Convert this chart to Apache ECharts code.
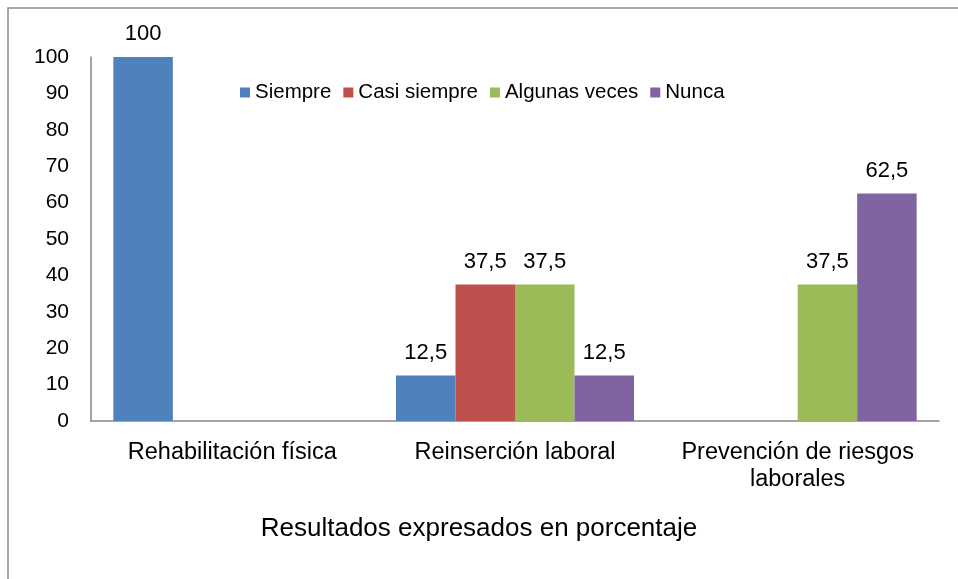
<!DOCTYPE html>
<html>
<head>
<meta charset="utf-8">
<script src="https://cdn.jsdelivr.net/npm/echarts@6/dist/echarts.min.js"></script>
<style>
  html, body { margin: 0; padding: 0; background: #fff; }
  #main { width: 958px; height: 579px; }
</style>
</head>
<body>
<div id="main"></div>
<script>
// categorias y series (porcentajes)
var categories = ["Rehabilitación física", "Reinserción laboral", "Prevención de riesgos\nlaborales"];
var seriesNames = ["Siempre", "Casi siempre", "Algunas veces", "Nunca"];
var siempre = [100, 12.5, null];
var casiSiempre = [null, 37.5, null];
var algunasVeces = [null, 37.5, 37.5];
var nunca = [null, 12.5, 62.5];
var yTicks = [0, 10, 20, 30, 40, 50, 60, 70, 80, 90, 100];

var colors = ["#4f81bd", "#c0504d", "#9bbb59", "#8064a2"];
var font = "Liberation Sans, Arial, sans-serif";

var chartDom = document.getElementById("main");
var myChart = echarts.init(chartDom);

var makeSeries = function (name, data, i) {
  return {
    name: name,
    type: "bar",
    data: data,
    barWidth: 59.5,
    barGap: "0%",
    itemStyle: { color: colors[i] },
    label: {
      show: true,
      position: "top",
      distance: 12,
      color: "#000",
      fontFamily: font,
      fontSize: 22,
      formatter: function (p) {
        return String(p.value).replace(".", ",");
      },
    },
  };
};

var option = {
  animation: false,
  color: colors,
  title: {
    text: "Resultados expresados en porcentaje",
    left: "center",
    top: 511,
    textStyle: { fontFamily: font, fontSize: 26, fontWeight: "normal", color: "#000" },
  },
  graphic: [
    {
      type: "polyline",
      shape: { points: [[8, 590], [8, 8], [970, 8]] },
      style: { stroke: "#8c8c8c", lineWidth: 1.5, fill: null },
    },
  ],
  legend: {
    left: 235,
    top: 77,
    itemWidth: 10,
    itemHeight: 10,
    itemGap: 12,
    icon: "rect",
    textStyle: { fontFamily: font, fontSize: 20.5, color: "#000" },
    data: seriesNames,
  },
  grid: { left: 91, right: 19, top: 57, bottom: 158 },
  xAxis: {
    type: "category",
    data: categories,
    axisLine: { lineStyle: { color: "#868686", width: 1.5 } },
    axisTick: { show: false },
    axisLabel: { fontFamily: font, fontSize: 23.5, color: "#000", margin: 18, lineHeight: 27, interval: 0 },
  },
  yAxis: {
    type: "value",
    min: yTicks[0],
    max: yTicks[yTicks.length - 1],
    interval: 10,
    splitLine: { show: false },
    axisLine: { show: true, lineStyle: { color: "#868686", width: 1.5 } },
    axisTick: { show: false },
    axisLabel: { fontFamily: font, fontSize: 21, color: "#000", margin: 22 },
  },
  series: [
    makeSeries(seriesNames[0], siempre, 0),
    makeSeries(seriesNames[1], casiSiempre, 1),
    makeSeries(seriesNames[2], algunasVeces, 2),
    makeSeries(seriesNames[3], nunca, 3),
  ],
};

myChart.setOption(option);
</script>
</body>
</html>
